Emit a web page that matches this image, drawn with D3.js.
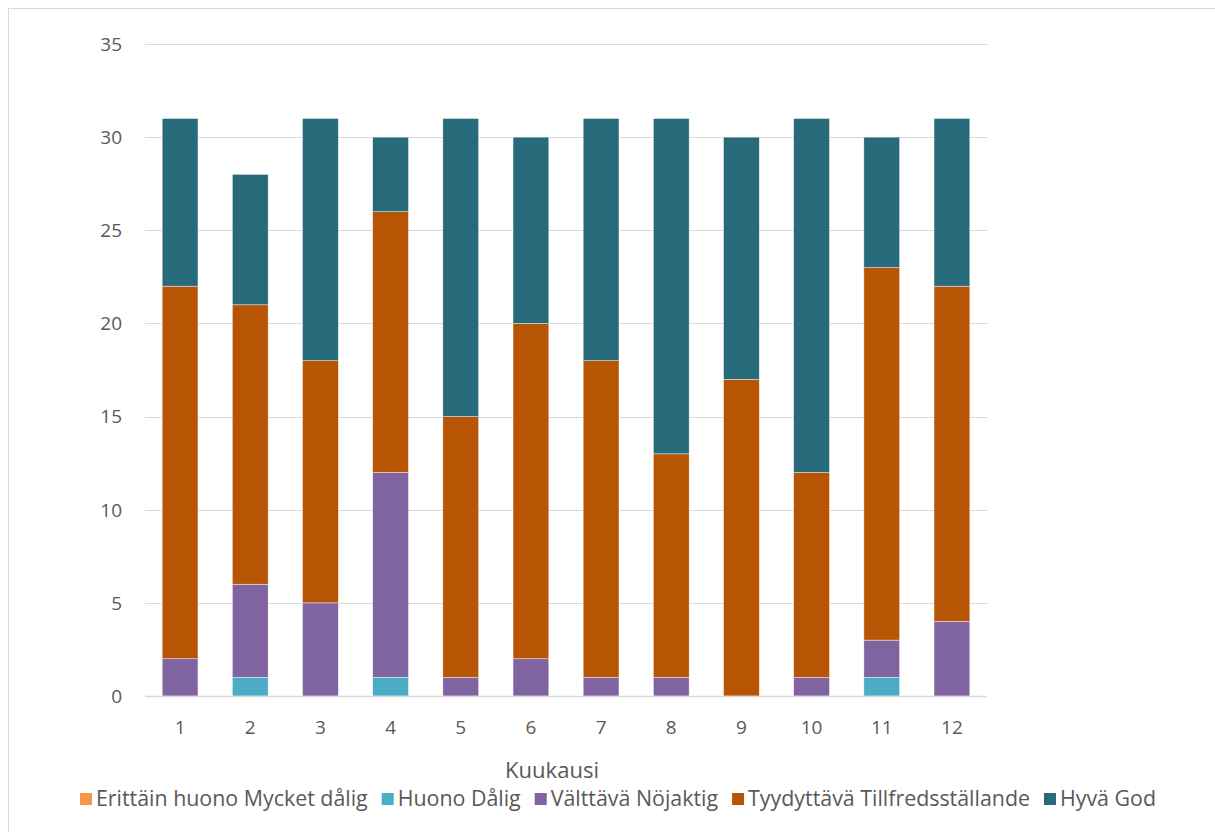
<!DOCTYPE html>
<html><head><meta charset="utf-8">
<script src="https://cdn.jsdelivr.net/npm/d3@7"></script>
<style>body{margin:0;background:#fff}svg{display:block}</style>
</head><body>
<svg id="c" width="1215" height="832"></svg>
<script>
const months = ["1","2","3","4","5","6","7","8","9","10","11","12"];
const seriesNames = ["Erittäin huono Mycket dålig","Huono Dålig","Välttävä Nöjaktig","Tyydyttävä Tillfredsställande","Hyvä God"];
const erittainHuono = [0,0,0,0,0,0,0,0,0,0,0,0];
const huono        = [0,1,0,1,0,0,0,0,0,0,1,0];
const valttava     = [2,5,5,11,1,2,1,1,0,1,2,4];
const tyydyttava   = [20,15,13,14,14,18,17,12,17,11,20,18];
const hyva         = [9,7,13,4,16,10,13,18,13,19,7,9];
const yTicks = [0,5,10,15,20,25,30,35];
const colors = ["#F79646","#4BACC6","#8064A2","#B85504","#276B7A"];
const axisTitle = "Kuukausi";

(function(){
const svg = d3.select("#c");
const font = "'Open Sans', 'Noto Sans', sans-serif";
const txt = "#595959";

function fit(str, target){
  const t = svg.append("text").attr("font-family",font).attr("font-size",100).text(str);
  const w = t.node().getComputedTextLength(); t.remove();
  return 100*target/w;
}
const tickSize = Math.min(19, fit("35",25));
const titleSize = fit(axisTitle,94);
const legSize = fit(seriesNames[0],272);

svg.append("rect").attr("x",8.5).attr("y",8.5).attr("width",1230).attr("height",850)
  .attr("fill","#fff").attr("stroke","#d9d9d9").attr("stroke-width",1);

const pl=145, pr=987, pt=44, pb=696;
const x = d3.scaleBand().domain(months).range([pl,pr]).paddingInner(0.49).paddingOuter(0.245);
const y = d3.scaleLinear().domain([0,35]).range([pb,pt]);

svg.append("g").selectAll("line").data(yTicks.filter(d=>d>0)).join("line")
  .attr("x1",pl).attr("x2",pr).attr("y1",d=>Math.round(y(d))+0.5).attr("y2",d=>Math.round(y(d))+0.5)
  .attr("stroke","#d9d9d9").attr("stroke-width",1);

const rows = months.map((m,i)=>{const o={m}; [erittainHuono,huono,valttava,tyydyttava,hyva].forEach((arr,k)=>o[seriesNames[k]]=arr[i]); return o;});
const stack = d3.stack().keys(seriesNames)(rows);

svg.append("g").selectAll("g").data(stack).join("g").attr("fill",(d,i)=>colors[i])
  .selectAll("rect").data(d=>d.filter(p=>p[1]-p[0]>0)).join("rect")
  .attr("x",d=>x(d.data.m)).attr("width",x.bandwidth())
  .attr("y",d=>y(d[1])).attr("height",d=>y(d[0])-y(d[1]))
  .attr("stroke","#ffffff").attr("stroke-width",0.6).attr("stroke-opacity",0.7);

svg.append("line").attr("x1",pl).attr("x2",pr).attr("y1",y(0)+0.5).attr("y2",y(0)+0.5)
  .attr("stroke","#d9d9d9").attr("stroke-width",1.5);

svg.append("g").selectAll("text").data(yTicks).join("text")
  .attr("x",122).attr("y",d=>y(d)).attr("dy","0.36em").attr("text-anchor","end")
  .attr("font-family",font).attr("font-size",tickSize).attr("fill",txt).text(d=>d);

svg.append("g").selectAll("text").data(months).join("text")
  .attr("x",d=>x(d)+x.bandwidth()/2).attr("y",727).attr("dy","0.36em").attr("text-anchor","middle")
  .attr("font-family",font).attr("font-size",tickSize).attr("fill",txt).text(d=>d);

svg.append("text").attr("x",552).attr("y",770).attr("dy","0.36em").attr("text-anchor","middle")
  .attr("font-family",font).attr("font-size",titleSize).attr("fill",txt).text(axisTitle);

const lg = svg.append("g");
const items = seriesNames.map((n,i)=>{
  const g = lg.append("g");
  g.append("rect").attr("width",12).attr("height",12).attr("y",-5).attr("fill",colors[i]);
  const t = g.append("text").attr("x",16).attr("dy","0.36em").attr("font-family",font).attr("font-size",legSize).attr("fill",txt).text(n);
  return {g,w:16+t.node().getComputedTextLength()};
});
const gap = 14;
const total = d3.sum(items,d=>d.w)+gap*(items.length-1);
let cx = 618 - total/2;
items.forEach(it=>{it.g.attr("transform",`translate(${cx},798)`); cx += it.w+gap;});
})();
</script>
</body></html>
